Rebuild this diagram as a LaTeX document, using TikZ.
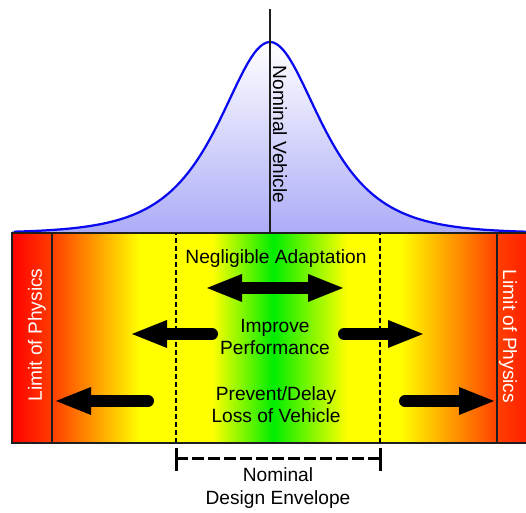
\documentclass[tikz,border=0pt]{standalone}
\usepackage{fontspec}
\setmainfont{Liberation Sans}
\usepackage{xcolor}
\usetikzlibrary{positioning,arrows.meta,calc}
\definecolor{curveline}{HTML}{0A0AF0}
\definecolor{curvefill}{HTML}{ACACF8}
\definecolor{linegray}{HTML}{1E1E1E}
\pgfdeclarehorizontalshading{envelope}{100bp}{%
  rgb(0bp)=(1,0,0); rgb(25bp)=(1,0,0); rgb(28.9bp)=(1,0.24,0);
  rgb(37.4bp)=(1,1,0); rgb(44.4bp)=(1,1,0); rgb(50.3bp)=(0,0.93,0);
  rgb(57.5bp)=(1,1,0); rgb(62.6bp)=(1,1,0); rgb(72.2bp)=(1,0.24,0);
  rgb(75bp)=(1,0.12,0); rgb(100bp)=(1,0.12,0)}
\tikzset{
  % --- texts ---
  lbl/.style={font=\fontsize{10.9}{12.9}\selectfont, align=center,
              inner sep=0pt, text=black},
  physlbl/.style={lbl, text=white},
  % --- lines ---
  frame/.style={draw=linegray, line width=0.4mm},
  envline/.style={draw=black, line width=0.4mm, dash pattern=on 1mm off 0.6mm},
  bell/.style={draw=curveline, line width=0.45mm},
  % --- block arrows ---
  blockarrow/.style={line width=2.4mm, line cap=round, draw=black,
                     -{Triangle[length=7mm,width=5.6mm,line width=0pt 0 0]}},
  twoway/.style={line width=2.4mm, draw=black,
                 {Triangle[length=7mm,width=5.6mm,line width=0pt 0 0]}-%
                 {Triangle[length=7mm,width=5.6mm,line width=0pt 0 0]}},
  bracket/.style={draw=black, line width=0.6mm},
}
\begin{document}
\begin{tikzpicture}[x=0.2mm,y=0.2mm]
  \useasboundingbox (0,0) rectangle (526,513);
  % distribution of vehicles
  \fill[top color=white, bottom color=curvefill]
    (12,280) -- plot[domain=-258:256, samples=161] ({270+\x},{280+191/cosh(\x/45)})
    -- (526,280) -- cycle;
  \draw[bell] plot[domain=-256:256, samples=161] ({270+\x},{280+191/cosh(\x/45)});
  % envelope band
  \coordinate (bandsw) at (12,70);
  \coordinate (bandne) at (528,280);
  \shade[shading=envelope] (bandsw) rectangle (bandne);
  \draw[frame] (bandsw) rectangle (bandne);
  \draw[frame, line width=0.5mm] (52,70) -- (52,280);
  \draw[frame, line width=0.5mm] (497,70) -- (497,280);
  \draw[envline] (176,70) -- (176,280);
  \draw[envline] (380,70) -- (380,280);
  % nominal vehicle
  \coordinate (nomtop) at (270,504);
  \coordinate (nombot) at (270,280);
  \draw[frame, line width=0.45mm] (nombot) -- (nomtop);
  \node[lbl, rotate=-90] (nominal) at (280,378.5) {Nominal Vehicle};
  % limits
  \node[physlbl, rotate=90] (physleft) at (37,178) {Limit of Physics};
  \node[physlbl, rotate=-90] (physright) at (508,176.5) {Limit of Physics};
  % adaptation zones
  \node[lbl] (negligible) at (276,254) {Negligible Adaptation};
  \node[lbl] (improve) at (275,176) {Improve\\Performance};
  \node[lbl] (prevent) at (276,108.5) {Prevent/Delay\\Loss of Vehicle};
  \draw[twoway] (207,225) -- (343,225);
  \draw[blockarrow] (212,179) -- (132,179);
  \draw[blockarrow] (344,179) -- (423,179);
  \draw[blockarrow] (148,112) -- (56,112);
  \draw[blockarrow] (405,112) -- (494,112);
  % nominal design envelope
  \draw[bracket] (176,65) -- (176,42);
  \draw[bracket] (380,65) -- (380,42);
  \draw[bracket, dash pattern=on 2.4mm off 0.8mm] (176,54) -- (380,54);
  \node[lbl] (design) at (278,25) {Nominal\\Design Envelope};
\end{tikzpicture}
\end{document}
